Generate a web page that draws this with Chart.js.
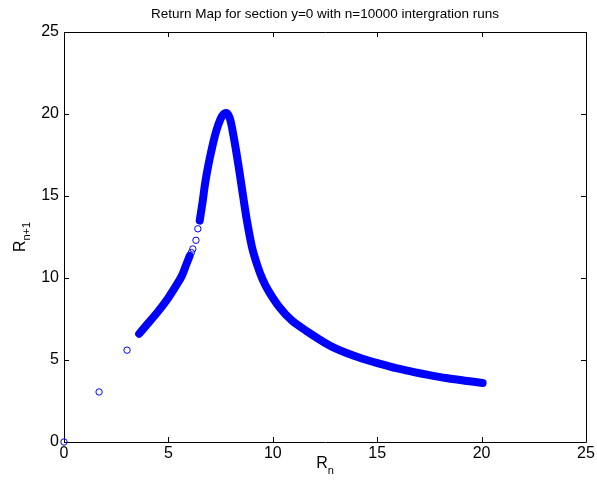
<!DOCTYPE html>
<html>
<head>
<meta charset="utf-8">
<script src="https://cdn.jsdelivr.net/npm/chart.js@4/dist/chart.umd.min.js"></script>
<style>
html,body{margin:0;padding:0;background:#fff;}
#wrap{width:597px;height:492px;position:relative;}
</style>
</head>
<body>
<div id="wrap"><canvas id="c" width="597" height="492"></canvas></div>
<script>
// ---- data ----
const titleText = "Return Map for section y=0 with n=10000 intergration runs";
const xTicks = [0, 5, 10, 15, 20, 25];
const yTicks = [0, 5, 10, 15, 20, 25];

// dense lower-left band
const bandAx = [3.6, 4.0, 4.5, 5.0, 5.45, 5.65, 5.85, 6.02];
const bandAy = [6.6, 7.2, 7.95, 8.8, 9.7, 10.15, 10.8, 11.35];

// dense band: rising to peak and decaying tail
const bandBx = [6.5, 6.65, 6.75, 6.9, 7.1, 7.3, 7.5, 7.65, 7.8, 7.95, 8.1, 8.25, 8.4, 8.6, 8.76, 9.0, 9.25, 9.5, 9.8, 10.3, 10.9, 11.6, 12.7, 13.5, 14.3, 15.1, 15.9, 16.7, 17.5, 18.3, 19.2, 20.05];
const bandBy = [13.5, 14.75, 15.7, 16.8, 18.0, 19.0, 19.7, 20.0, 20.05, 19.7, 18.8, 17.7, 16.5, 14.8, 13.5, 11.9, 10.8, 9.95, 9.2, 8.25, 7.42, 6.78, 5.9, 5.44, 5.08, 4.78, 4.5, 4.28, 4.08, 3.9, 3.74, 3.6];

// individually visible circles
const ptsX = [0, 1.68, 3.02, 6.1, 6.17, 6.32, 6.41];
const ptsY = [0, 3.05, 5.6, 11.55, 11.77, 12.3, 13.0];

const BLUE = '#0000ff';
const FONT = '"Liberation Sans", Arial, Helvetica, sans-serif';

const toXY = (xs, ys) => xs.map((x, i) => ({x: x, y: ys[i]}));

const axesPlugin = {
  id: 'matlabAxes',
  beforeDatasetsDraw(chart) {
    const ctx = chart.ctx;
    const a = chart.chartArea;
    const xs = chart.scales.x, ys = chart.scales.y;
    ctx.save();
    ctx.strokeStyle = '#000';
    ctx.lineWidth = 1;
    ctx.beginPath();
    ctx.rect(Math.round(a.left) + 0.5, Math.round(a.top) + 0.5, Math.round(a.right - a.left), Math.round(a.bottom - a.top));
    ctx.stroke();
    const tl = 5;
    ctx.beginPath();
    xTicks.forEach(v => {
      const px = Math.round(xs.getPixelForValue(v)) + 0.5;
      ctx.moveTo(px, a.bottom); ctx.lineTo(px, a.bottom - tl);
      ctx.moveTo(px, a.top); ctx.lineTo(px, a.top + tl);
    });
    yTicks.forEach(v => {
      const py = Math.round(ys.getPixelForValue(v)) + 0.5;
      ctx.moveTo(a.left, py); ctx.lineTo(a.left + tl, py);
      ctx.moveTo(a.right, py); ctx.lineTo(a.right - tl, py);
    });
    ctx.stroke();

    // title
    ctx.fillStyle = '#000';
    ctx.font = '13.5px ' + FONT;
    ctx.textAlign = 'center';
    ctx.textBaseline = 'alphabetic';
    const cx = (a.left + a.right) / 2;
    ctx.fillText(titleText, cx, 18);

    // x axis label R_n
    ctx.font = '16px ' + FONT;
    const rW = ctx.measureText('R').width;
    ctx.font = '11px ' + FONT;
    const nW = ctx.measureText('n').width;
    let sx = cx - (rW + nW) / 2;
    ctx.textAlign = 'left';
    ctx.font = '16px ' + FONT;
    ctx.fillText('R', sx, 468);
    ctx.font = '11px ' + FONT;
    ctx.fillText('n', sx + rW, 474);

    // y axis label R_{n+1}
    ctx.translate(25, (a.top + a.bottom) / 2);
    ctx.rotate(-Math.PI / 2);
    ctx.font = '11px ' + FONT;
    const sW = ctx.measureText('n+1').width;
    ctx.font = '16px ' + FONT;
    sx = -(rW + sW) / 2;
    ctx.fillText('R', sx, 0);
    ctx.font = '11px ' + FONT;
    ctx.fillText('n+1', sx + rW, 5);
    ctx.restore();
  }
};

new Chart(document.getElementById('c'), {
  type: 'scatter',
  data: {
    datasets: [
      {
        data: toXY(bandAx, bandAy),
        showLine: true,
        borderColor: BLUE,
        borderWidth: 8,
        borderCapStyle: 'round',
        borderJoinStyle: 'round',
        pointRadius: 0,
        tension: 0.3
      },
      {
        data: toXY(bandBx, bandBy),
        showLine: true,
        borderColor: BLUE,
        borderWidth: 8,
        borderCapStyle: 'round',
        borderJoinStyle: 'round',
        pointRadius: 0,
        tension: 0.3
      },
      {
        data: toXY(ptsX, ptsY),
        showLine: false,
        clip: false,
        pointStyle: 'circle',
        pointRadius: 3.2,
        pointBorderWidth: 1,
        pointBorderColor: BLUE,
        pointBackgroundColor: 'rgba(0,0,0,0)'
      }
    ]
  },
  options: {
    responsive: false,
    animation: false,
    events: [],
    layout: { padding: { left: 0, right: 11, top: 32, bottom: 0 } },
    plugins: { legend: { display: false }, tooltip: { enabled: false }, title: { display: false } },
    scales: {
      x: {
        type: 'linear', min: 0, max: 25,
        afterFit(s) { s.height = 50; },
        afterBuildTicks(s) { s.ticks = xTicks.map(v => ({value: v})); },
        grid: { display: false, drawTicks: false },
        border: { display: false },
        ticks: { color: '#000', font: { size: 16, family: FONT }, padding: 2, maxRotation: 0 }
      },
      y: {
        type: 'linear', min: 0, max: 25,
        afterFit(s) { s.width = 64; },
        afterBuildTicks(s) { s.ticks = yTicks.map(v => ({value: v})); },
        grid: { display: false, drawTicks: false },
        border: { display: false },
        ticks: { color: '#000', font: { size: 16, family: FONT }, padding: 5 }
      }
    }
  },
  plugins: [axesPlugin]
});
</script>
</body>
</html>
